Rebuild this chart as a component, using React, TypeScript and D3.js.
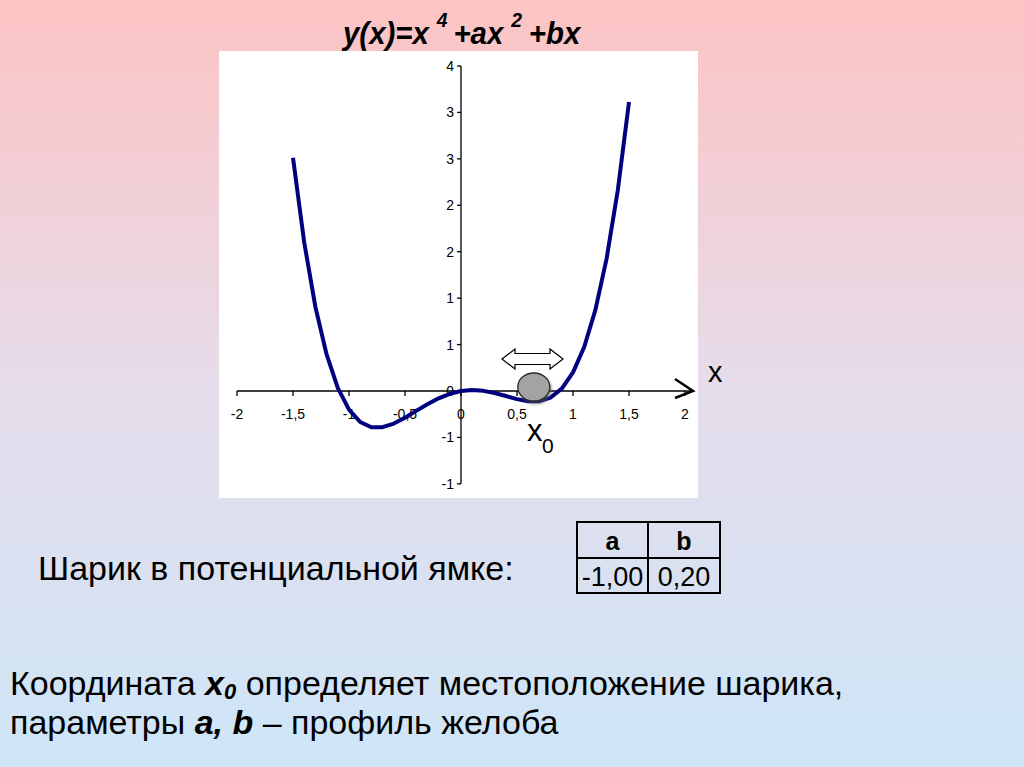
import React from "react";
import * as d3 from "d3";

const xs = [-1.5, -1.4, -1.3, -1.2, -1.1, -1.0, -0.9, -0.8, -0.7, -0.6, -0.5, -0.4, -0.3, -0.2, -0.1, 0, 0.1, 0.2, 0.3, 0.4, 0.5, 0.6, 0.7, 0.8, 0.9, 1.0, 1.1, 1.2, 1.3, 1.4, 1.5];
const ys = [2.5125, 1.6016, 0.9061, 0.3936, 0.0341, -0.2, -0.3339, -0.3904, -0.3899, -0.3504, -0.2875, -0.2144, -0.1419, -0.0784, -0.0299, 0, 0.0101, 0.0016, -0.0219, -0.0544, -0.0875, -0.1104, -0.1099, -0.0704, 0.0261, 0.2, 0.4741, 0.8736, 1.4261, 2.1616, 3.1125];
const xTicks = [-2, -1.5, -1, -0.5, 0, 0.5, 1, 1.5, 2];
const xTickLabels = ["-2", "-1,5", "-1", "-0,5", "0", "0,5", "1", "1,5", "2"];
const yTicks = [-1, -0.5, 0, 0.5, 1, 1.5, 2, 2.5, 3, 3.5];
const yTickLabels = ["-1", "-1", "0", "1", "1", "2", "2", "3", "3", "4"];
const ballX0 = 0.65;
const tableHeaders = ["a", "b"];
const tableValues = ["-1,00", "0,20"];

const FONT = "'Liberation Sans', Arial, sans-serif";

export default function App() {
  const x = d3.scaleLinear().domain([-2, 2]).range([237, 685]);
  const y = d3.scaleLinear().domain([0, 3.5]).range([391, 66]);
  const line = d3
    .line<number>()
    .x((_, i) => x(xs[i]))
    .y((d) => y(d));
  const pathD = line(ys) || "";
  const bx = x(ballX0);
  const by = y(0) - 4;

  const ax0 = 502, ax1 = 563, ay = 359;
  const head = 13, bodyH = 5.5, headH = 10;
  const arrowPts = [
    [ax0, ay],
    [ax0 + head, ay - headH],
    [ax0 + head, ay - bodyH],
    [ax1 - head, ay - bodyH],
    [ax1 - head, ay - headH],
    [ax1, ay],
    [ax1 - head, ay + headH],
    [ax1 - head, ay + bodyH],
    [ax0 + head, ay + bodyH],
    [ax0 + head, ay + headH],
  ]
    .map((p) => p.join(","))
    .join(" ");

  const tx = [577, 648, 720];
  const ty = [522, 558, 593];

  return (
    <svg
      width={1024}
      height={767}
      style={{ position: "absolute", left: 0, top: 0 }}
      fontFamily={FONT}
    >
      <defs>
        <linearGradient id="bg" x1="0" y1="0" x2="0" y2="1">
          <stop offset="0" stopColor="#fcc3c3" />
          <stop offset="0.5" stopColor="#e6dcea" />
          <stop offset="1" stopColor="#cde6f8" />
        </linearGradient>
        <filter id="sh" x="-50%" y="-50%" width="200%" height="200%">
          <feGaussianBlur stdDeviation="1.5" />
        </filter>
      </defs>
      <rect x={0} y={0} width={1024} height={767} fill="url(#bg)" />

      {/* plot area */}
      <rect x={219} y={51} width={479} height={447} fill="#fff" />

      {/* title */}
      <g transform="translate(343,44) scale(0.92,1)" fontWeight="bold" fontStyle="italic" fill="#000" fontSize={32}>
        <text x={0} y={0}>y(x)=x</text>
        <text x={102} y={-17} fontSize={21}>4</text>
        <text x={120} y={0}>+ax</text>
        <text x={183} y={-17} fontSize={21}>2</text>
        <text x={202} y={0}>+bx</text>
      </g>

      {/* y axis */}
      <line x1={x(0)} x2={x(0)} y1={y(-1)} y2={y(3.5)} stroke="#000" strokeWidth={1.3} />
      {yTicks.map((t, i) => (
        <g key={"yt" + i}>
          <line x1={x(0) - 4} x2={x(0)} y1={y(t)} y2={y(t)} stroke="#000" strokeWidth={1.3} />
          <text x={x(0) - 7} y={y(t) + 5} fontSize={14} textAnchor="end">
            {yTickLabels[i]}
          </text>
        </g>
      ))}

      {/* x axis */}
      <line x1={x(-2)} x2={x(2) + 7} y1={y(0)} y2={y(0)} stroke="#000" strokeWidth={1.5} />
      {xTicks.map((t, i) => (
        <g key={"xt" + i}>
          <line x1={x(t)} x2={x(t)} y1={y(0)} y2={y(0) + 5} stroke="#000" strokeWidth={1.3} />
          <text x={x(t)} y={y(0) + 28} fontSize={14} textAnchor="middle">
            {xTickLabels[i]}
          </text>
        </g>
      ))}
      <polyline
        points={`${x(2) - 10},${y(0) - 12} ${x(2) + 8},${y(0)} ${x(2) - 10},${y(0) + 7}`}
        fill="none"
        stroke="#000"
        strokeWidth={2.5}
      />

      {/* curve */}
      <path d={pathD} fill="none" stroke="#000080" strokeWidth={4} strokeLinejoin="round" />

      {/* ball */}
      <ellipse cx={bx + 2} cy={by + 3} rx={16} ry={14} fill="#555" opacity={0.6} filter="url(#sh)" />
      <ellipse cx={bx} cy={by} rx={16} ry={14} fill="#a3a3a3" stroke="#2a2a2a" strokeWidth={1.3} />

      {/* double arrow */}
      <polygon points={arrowPts} fill="#fff" stroke="#000" strokeWidth={1.2} />

      {/* labels */}
      <text x={708} y={382} fontSize={29}>x</text>
      <text x={527} y={441} fontSize={31}>x</text>
      <text x={542} y={453} fontSize={21}>0</text>

      {/* table */}
      <g stroke="#000" strokeWidth={2}>
        <rect x={tx[0]} y={ty[0]} width={tx[2] - tx[0]} height={ty[2] - ty[0]} fill="none" />
        <line x1={tx[1]} x2={tx[1]} y1={ty[0]} y2={ty[2]} />
        <line x1={tx[0]} x2={tx[2]} y1={ty[1]} y2={ty[1]} />
      </g>
      {tableHeaders.map((h, i) => (
        <text key={"h" + i} x={(tx[i] + tx[i + 1]) / 2} y={550} fontSize={25} fontWeight="bold" textAnchor="middle">
          {h}
        </text>
      ))}
      {tableValues.map((v, i) => (
        <text key={"v" + i} x={(tx[i] + tx[i + 1]) / 2} y={586} fontSize={27} textAnchor="middle">
          {v}
        </text>
      ))}

      {/* slide texts */}
      <text x={38} y={580} fontSize={34}>Шарик в потенциальной ямке:</text>
      <text x={10} y={695} fontSize={34}>
        Координата <tspan fontWeight="bold" fontStyle="italic">x</tspan>
        <tspan fontWeight="bold" fontStyle="italic" fontSize={22} dy={4}>0</tspan>
        <tspan dy={-4}> определяет местоположение шарика,</tspan>
      </text>
      <text x={10} y={734} fontSize={34}>
        параметры <tspan fontWeight="bold" fontStyle="italic">a, b</tspan> – профиль желоба
      </text>
    </svg>
  );
}
